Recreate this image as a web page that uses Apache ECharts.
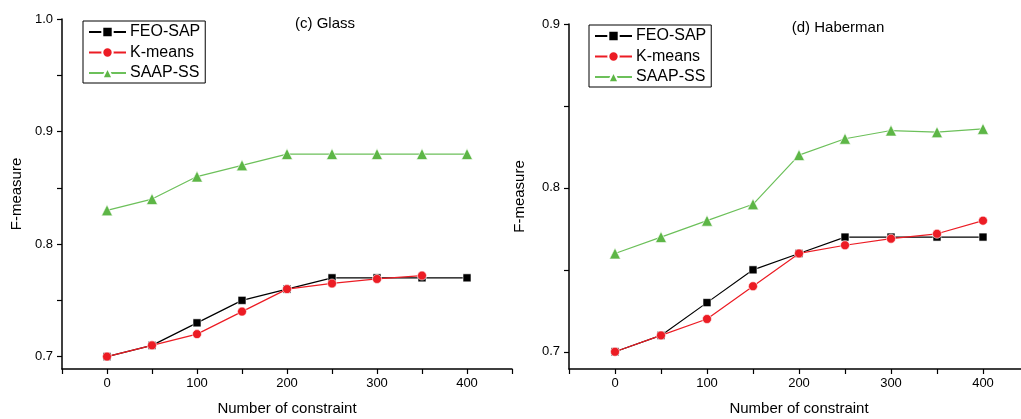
<!DOCTYPE html>
<html>
<head>
<meta charset="utf-8">
<script src="https://cdn.jsdelivr.net/npm/echarts@6/dist/echarts.min.js"></script>
<style>
html,body{margin:0;padding:0;background:#fff;}
#main{width:1021px;height:419px;}
</style>
</head>
<body>
<div id="main"></div>
<script>
// ---- data ----
var constraints = [0, 50, 100, 150, 200, 250, 300, 350, 400];
var seriesNames = ['FEO-SAP', 'K-means', 'SAAP-SS'];
var titles = ['(c) Glass', '(d) Haberman'];

var glassFEO   = [0.70, 0.71, 0.73, 0.75, 0.76, 0.77, 0.77, 0.77, 0.77];
var glassKmeans = [0.70, 0.71, 0.72, 0.74, 0.76, 0.765, 0.769, 0.772];
var glassSAAP  = [0.83, 0.84, 0.86, 0.87, 0.88, 0.88, 0.88, 0.88, 0.88];

var haberFEO   = [0.70, 0.71, 0.73, 0.75, 0.76, 0.77, 0.77, 0.77, 0.77];
var haberKmeans = [0.70, 0.71, 0.72, 0.74, 0.76, 0.765, 0.769, 0.772, 0.78];
var haberSAAP  = [0.76, 0.77, 0.78, 0.79, 0.82, 0.83, 0.835, 0.834, 0.836];

var xTickLabels = [0, 100, 200, 300, 400];
var xTicks = [-50, 0, 50, 100, 150, 200, 250, 300, 350, 400, 450];
var yLabelsGlass = [0.7, 0.8, 0.9, 1.0];
var yTicksGlass = [0.7, 0.75, 0.8, 0.85, 0.9, 0.95, 1.0];
var yLabelsHaber = [0.7, 0.8, 0.9];
var yTicksHaber = [0.7, 0.75, 0.8, 0.85, 0.9];

// ---- helpers ----
function pairs(vals) {
  return vals.map(function (v, i) { return [constraints[i], v]; });
}
var FONT = '"Liberation Sans", Arial, sans-serif';
var styles = {
  'FEO-SAP': { color: '#000000', line: '#000000', symbol: 'rect', size: 8 },
  'K-means': { color: '#ec1c24', line: '#ec1c24', symbol: 'circle', size: 9 },
  'SAAP-SS': { color: '#5db646', line: '#6cc05a', symbol: 'triangle', size: 11 }
};
function mkSeries(name, vals, idx) {
  var s = styles[name];
  return {
    name: name, type: 'line', xAxisIndex: idx, yAxisIndex: idx,
    data: pairs(vals), symbol: s.symbol, symbolSize: s.size,
    itemStyle: { color: s.color, borderColor: '#ffffff', borderWidth: 0.6 },
    lineStyle: { color: s.line, width: 1.2 },
    animation: false, z: name === 'SAAP-SS' ? 2 : (name === 'FEO-SAP' ? 3 : 4)
  };
}
function xAxis(idx) {
  return {
    type: 'value', gridIndex: idx, min: -50, max: 450, interval: 50,
    name: 'Number of constraint', nameLocation: 'middle', nameGap: 32,
    nameTextStyle: { fontFamily: FONT, fontSize: 15, color: '#000' },
    axisLine: { show: true, onZero: false, lineStyle: { color: '#000', width: 1.5 } },
    axisTick: { show: true, length: 5, customValues: xTicks, lineStyle: { color: '#000', width: 1.2 } },
    axisLabel: { customValues: xTickLabels, margin: 8, fontFamily: FONT, fontSize: 13, color: '#000' },
    splitLine: { show: false }
  };
}
function yAxis(idx, min, max, labels, ticks, gap) {
  return {
    type: 'value', gridIndex: idx, min: min, max: max,
    name: 'F-measure', nameLocation: 'middle', nameGap: gap, nameRotate: 90,
    nameTextStyle: { fontFamily: FONT, fontSize: 15, color: '#000' },
    axisLine: { show: true, onZero: false, lineStyle: { color: '#000', width: 1.5 } },
    axisTick: { show: true, length: 5, customValues: ticks, lineStyle: { color: '#000', width: 1.2 } },
    axisLabel: { customValues: labels, margin: 9, fontFamily: FONT, fontSize: 13, color: '#000',
      formatter: function (v) { return v.toFixed(1); } },
    splitLine: { show: false }
  };
}
function legend(left, top) {
  return {
    left: left, top: top, orient: 'vertical', data: seriesNames,
    itemWidth: 37, itemHeight: 13, itemGap: 4.5,
    padding: [3, 5, 2, 5],
    borderColor: '#000', borderWidth: 1,
    textStyle: { fontFamily: FONT, fontSize: 16, color: '#000', padding: [0, 0, 0, -1] },
    selectedMode: false
  };
}

var option = {
  backgroundColor: '#ffffff',
  animation: false,
  title: [
    { text: titles[0], left: 320, top: 11, textAlign: 'center',
      textStyle: { fontFamily: FONT, fontSize: 15, fontWeight: 'normal', color: '#000' } },
    { text: titles[1], left: 833, top: 15, textAlign: 'center',
      textStyle: { fontFamily: FONT, fontSize: 15, fontWeight: 'normal', color: '#000' } }
  ],
  legend: [legend(83, 21), legend(589, 25)],
  grid: [
    { left: 62, top: 19, width: 450, height: 350, containLabel: false, outerBoundsMode: 'none' },
    { left: 569, top: 24, width: 460, height: 345, containLabel: false, outerBoundsMode: 'none' }
  ],
  xAxis: [xAxis(0), xAxis(1)],
  yAxis: [
    yAxis(0, 0.689, 1.0, yLabelsGlass, yTicksGlass, 38),
    yAxis(1, 0.6895, 0.9, yLabelsHaber, yTicksHaber, 42)
  ],
  series: [
    mkSeries('SAAP-SS', glassSAAP, 0),
    mkSeries('FEO-SAP', glassFEO, 0),
    mkSeries('K-means', glassKmeans, 0),
    mkSeries('SAAP-SS', haberSAAP, 1),
    mkSeries('FEO-SAP', haberFEO, 1),
    mkSeries('K-means', haberKmeans, 1)
  ]
};
var chart = echarts.init(document.getElementById('main'), null, { renderer: 'canvas' });
chart.setOption(option);
</script>
</body>
</html>
